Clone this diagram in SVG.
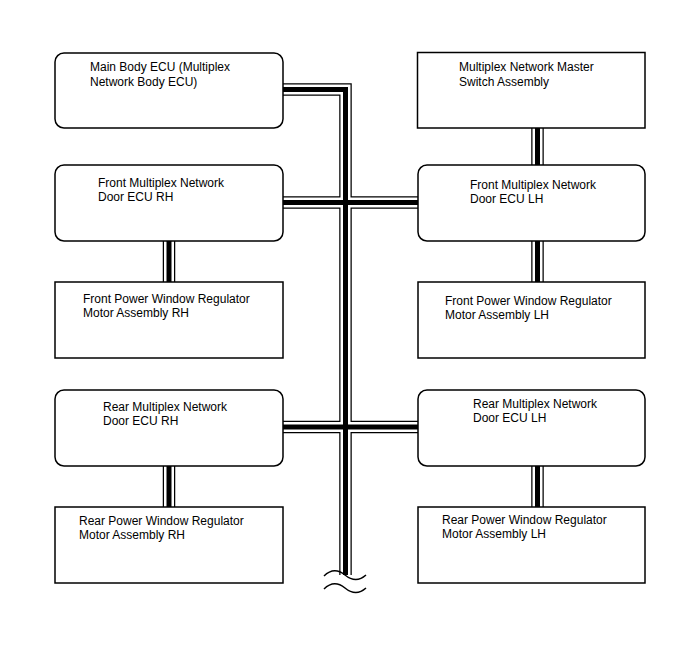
<svg xmlns="http://www.w3.org/2000/svg" width="688" height="658" viewBox="0 0 688 658">
<style>
.box{fill:#fff;stroke:#000;stroke-width:1.5}
text{font-family:"Liberation Sans",Arial,sans-serif;font-size:12px;fill:#000}
.c1{fill:none;stroke:#000;stroke-width:12.5;stroke-linejoin:miter}
.c2{fill:none;stroke:#fff;stroke-width:10;stroke-linejoin:miter}
.c3{fill:none;stroke:#000;stroke-width:5;stroke-linejoin:miter}
.wave{fill:none;stroke:#000;stroke-width:1.5}
</style>
<defs>
<path id="bus" d="M280,89.5 H345.5 V575 M280,202.5 H421 M280,427 H421 M169,238 V285 M169,463 V510 M537.5,125 V168 M537.5,238 V285 M537.5,463 V510"/>
</defs>
<rect width="688" height="658" fill="#fff"/>
<g id="connectors">
<use href="#bus" class="c1"/>
<use href="#bus" class="c2"/>
<use href="#bus" class="c3"/>
<rect x="330" y="575.5" width="30" height="4" fill="#fff"/>
<path class="wave" d="M324,576 Q334,566 345,575 T366,575"/>
<path class="wave" d="M324,589 Q334,579 345,588 T366,588"/>
</g>
<g id="main-body-ecu">
<rect class="box" x="55" y="53" width="228" height="75" rx="9"/>
<text x="90" y="71">Main Body ECU (Multiplex</text>
<text x="90" y="86">Network Body ECU)</text>
</g>
<g id="master-switch">
<rect class="box" x="417.5" y="52.5" width="227.5" height="75.5"/>
<text x="459" y="71">Multiplex Network Master</text>
<text x="459" y="86">Switch Assembly</text>
</g>
<g id="front-ecu-rh">
<rect class="box" x="55" y="165" width="228" height="76" rx="9"/>
<text x="98" y="187">Front Multiplex Network</text>
<text x="98" y="201">Door ECU RH</text>
</g>
<g id="front-ecu-lh">
<rect class="box" x="418" y="165" width="227" height="76" rx="9"/>
<text x="470" y="189">Front Multiplex Network</text>
<text x="470" y="203">Door ECU LH</text>
</g>
<g id="front-pw-rh">
<rect class="box" x="55" y="282" width="228" height="76"/>
<text x="83" y="303">Front Power Window Regulator</text>
<text x="83" y="317">Motor Assembly RH</text>
</g>
<g id="front-pw-lh">
<rect class="box" x="418" y="282" width="227" height="76"/>
<text x="445" y="305">Front Power Window Regulator</text>
<text x="445" y="319">Motor Assembly LH</text>
</g>
<g id="rear-ecu-rh">
<rect class="box" x="55" y="390" width="228" height="76" rx="9"/>
<text x="103" y="411">Rear Multiplex Network</text>
<text x="103" y="425">Door ECU RH</text>
</g>
<g id="rear-ecu-lh">
<rect class="box" x="418" y="390" width="227" height="76" rx="9"/>
<text x="473" y="408">Rear Multiplex Network</text>
<text x="473" y="422">Door ECU LH</text>
</g>
<g id="rear-pw-rh">
<rect class="box" x="55" y="507" width="228" height="76"/>
<text x="79" y="525">Rear Power Window Regulator</text>
<text x="79" y="539">Motor Assembly RH</text>
</g>
<g id="rear-pw-lh">
<rect class="box" x="418" y="507" width="227" height="76"/>
<text x="442" y="524">Rear Power Window Regulator</text>
<text x="442" y="538">Motor Assembly LH</text>
</g>
</svg>
